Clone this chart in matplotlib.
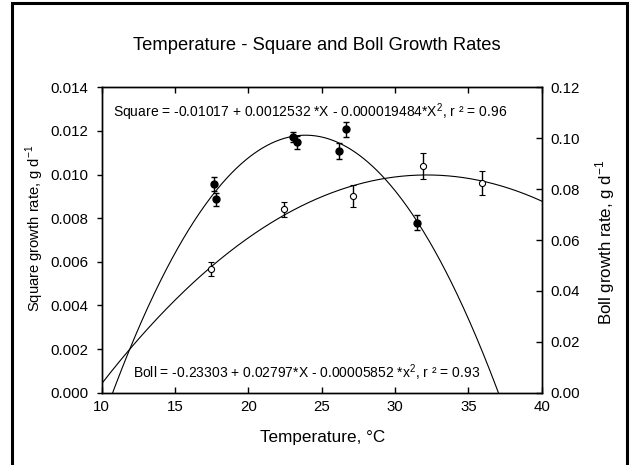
import numpy as np
import matplotlib
matplotlib.use("Agg")
import matplotlib.pyplot as plt
from matplotlib.patches import Rectangle

plt.rcParams['font.family'] = ['Liberation Sans', 'DejaVu Sans']

# Open circles: square growth rate (left axis)
sq_temp = [17.43, 22.45, 27.15, 31.88, 35.90]
sq_rate = [0.00568, 0.00840, 0.00901, 0.01038, 0.00960]
sq_err = [0.00031, 0.00036, 0.00050, 0.00060, 0.00055]

# Filled circles: boll growth rate (right axis)
boll_temp = [17.68, 17.81, 23.02, 23.33, 26.16, 26.65, 31.49]
boll_rate = [0.0820, 0.0760, 0.1006, 0.0984, 0.0951, 0.1035, 0.0668]
boll_err = [0.0026, 0.0026, 0.0020, 0.0026, 0.0031, 0.0029, 0.0029]

# Regression coefficients (c0, c1, c2)
sq_coef = [-0.01017, 0.0012532, -0.000019484]
boll_coef = [-0.23303, 0.02797, -0.0005852]

title = "Temperature - Square and Boll Growth Rates"
x_ticks = [10, 15, 20, 25, 30, 35, 40]
left_ticks = [0.000, 0.002, 0.004, 0.006, 0.008, 0.010, 0.012, 0.014]
right_ticks = [0.00, 0.02, 0.04, 0.06, 0.08, 0.10, 0.12]

W, H = 632, 465
fig = plt.figure(figsize=(W / 100, H / 100), dpi=100)
ax = fig.add_axes([101.7 / W, 1 - 392.7 / H, 440 / W, 305.4 / H])
ax2 = ax.twinx()

xs = np.linspace(10, 40, 400)
ax.plot(xs, sq_coef[0] + sq_coef[1] * xs + sq_coef[2] * xs ** 2, color='black', lw=0.8)
ax2.plot(xs, boll_coef[0] + boll_coef[1] * xs + boll_coef[2] * xs ** 2, color='black', lw=0.8)

ax.errorbar(sq_temp, sq_rate, yerr=sq_err, fmt='o', ms=4.4, mfc='white', mec='black',
            mew=0.8, ecolor='black', elinewidth=1.0, capsize=2.2, capthick=1.0, zorder=5)
ax2.errorbar(boll_temp, boll_rate, yerr=boll_err, fmt='o', ms=5.0, mfc='black', mec='black',
             ecolor='black', elinewidth=1.0, capsize=2.2, capthick=1.0, zorder=5)

ax.set_xlim(10, 40)
ax.set_ylim(0, 0.014)
ax2.set_ylim(0, 0.12)
ax.set_xticks(x_ticks)
ax.set_xticklabels([str(t) for t in x_ticks])
ax.set_yticks(left_ticks)
ax.set_yticklabels(['%.3f' % t for t in left_ticks])
ax2.set_yticks(right_ticks)
ax2.set_yticklabels(['%.2f' % t for t in right_ticks])

ax.tick_params(axis='x', direction='in', top=True, length=4.5, width=1, labelsize=10.8, pad=5)
ax.tick_params(axis='y', direction='out', length=3.6, width=1, labelsize=10.8, pad=6)
ax2.tick_params(axis='y', direction='in', length=4.5, width=1, labelsize=10.8, pad=6)
for a in (ax, ax2):
    for s in a.spines.values():
        s.set_linewidth(1.0)

fig.text(322.8 / W, 1 - 437 / H, "Temperature, °C", fontsize=12.3, ha='center', va='center')
fig.text(35 / W, 1 - 228 / H, r"Square growth rate, g d$^{\mathregular{-1}}$", fontsize=10.6,
         rotation=90, ha='center', va='center')
fig.text(605 / W, 1 - 242 / H, r"Boll growth rate, g d$^{\mathregular{-1}}$", fontsize=12.2,
         rotation=90, ha='center', va='center')

ax.text(0.025, 0.918, r"Square = -0.01017 + 0.0012532 *X - 0.000019484*X$^{\mathregular{2}}$, r ² = 0.96",
        transform=ax.transAxes, fontsize=10, va='center', ha='left')
ax.text(0.072, 0.065, r"Boll = -0.23303 + 0.02797*X - 0.00005852 *x$^{\mathregular{2}}$, r ² = 0.93",
        transform=ax.transAxes, fontsize=10, va='center', ha='left')

fig.text(317 / W, 1 - 45 / H, title, fontsize=13.2, ha='center', va='center')

fig.patches.append(Rectangle((11.5 / W, -0.05), (627 - 11.5) / W, 1.05 - 3.5 / H,
                             transform=fig.transFigure, fill=False, ec='black', lw=2.2))

fig.savefig("out.png", dpi=100)
